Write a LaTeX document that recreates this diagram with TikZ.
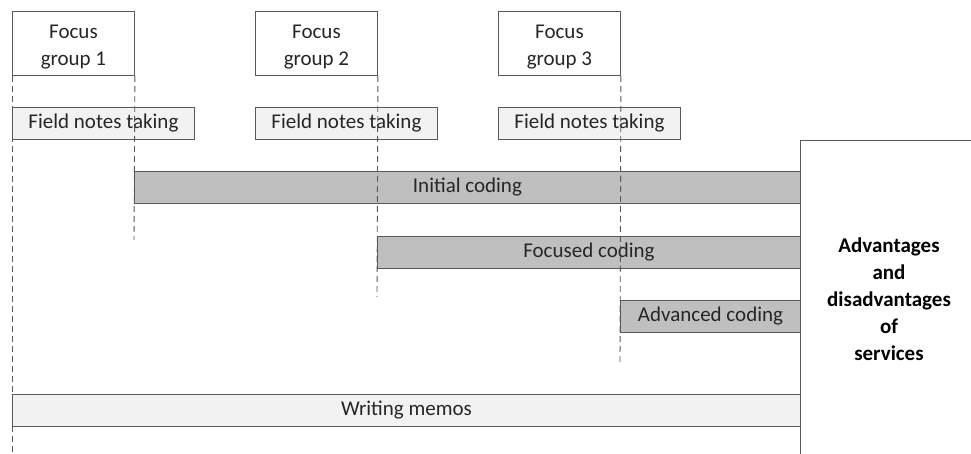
\documentclass[tikz,border=0pt]{standalone}
\usepackage{fontspec}
\setmainfont{Carlito}
\usetikzlibrary{positioning}

\definecolor{inkgray}{HTML}{262626}
\definecolor{linegray}{HTML}{595959}
\definecolor{barfill}{HTML}{BFBFBF}
\definecolor{notefill}{HTML}{F2F2F2}

\tikzset{
  grpbox/.style={draw=linegray, fill=white, minimum width=122pt, minimum height=64pt,
    inner sep=0pt, anchor=north west, align=center, text=inkgray, yshift=0pt},
  notebox/.style={draw=linegray, fill=notefill, minimum width=182pt, minimum height=32pt,
    inner sep=0pt, anchor=north west, text=inkgray},
  codebar/.style={draw=linegray, fill=barfill, minimum height=32pt,
    inner sep=0pt, anchor=north west, text=inkgray},
  memobar/.style={draw=linegray, fill=notefill, minimum height=32pt,
    inner sep=0pt, anchor=north west, text=inkgray},
  guide/.style={draw=linegray, dash pattern=on 6pt off 4pt}
}

\begin{document}
\begin{tikzpicture}[x=1pt, y=-1pt, line width=0.9pt, font=\fontsize{21}{27}\selectfont]
        \useasboundingbox (0,0) rectangle (971,454);

        % Focus groups
        \node[grpbox] (g1) at (12,11) {\rule{0pt}{20pt}Focus\\group 1};
        \node[grpbox] (g2) at (255,11) {\rule{0pt}{20pt}Focus\\group 2};
        \node[grpbox] (g3) at (498,11) {\rule{0pt}{20pt}Focus\\group 3};

        % Field notes
        \node[notebox] (n1) at (12,107) {Field notes taking};
        \node[notebox] (n2) at (255,107) {Field notes taking};
        \node[notebox] (n3) at (498,107) {Field notes taking};

        % Coding stages
        \node[codebar, minimum width=666pt] (initial) at (134,171) {Initial coding};
        \node[codebar, minimum width=423pt] (focused) at (377,236) {Focused coding};
        \node[codebar, minimum width=180pt] (advanced) at (620,300) {Advanced coding};

        % Memos
        \node[memobar, minimum width=788pt] (memos) at (12,394) {Writing memos};

        % Outcome panel
        \coordinate (ptop) at (800,140);
        \coordinate (pright) at (971,140);
        \coordinate (pbottom) at (800,454);
        \draw[linegray] (pright) -- (ptop) -- (pbottom);
        \node[align=center, font=\fontsize{21}{27}\selectfont\bfseries, text=black] (outcome) at (889,299)
          {Advantages\\and\\disadvantages\\of\\services};

        % Time guides
        \coordinate (e1) at (12,454);
        \coordinate (e2) at (134,240);
        \coordinate (e3) at (377,297);
        \coordinate (e4) at (620,364);
        \draw[guide] (g1.south west) -- (e1);
        \draw[guide] (g1.south east) -- (e2);
        \draw[guide] (g2.south east) -- (e3);
        \draw[guide] (g3.south east) -- (e4);
    \end{tikzpicture}
\end{document}
